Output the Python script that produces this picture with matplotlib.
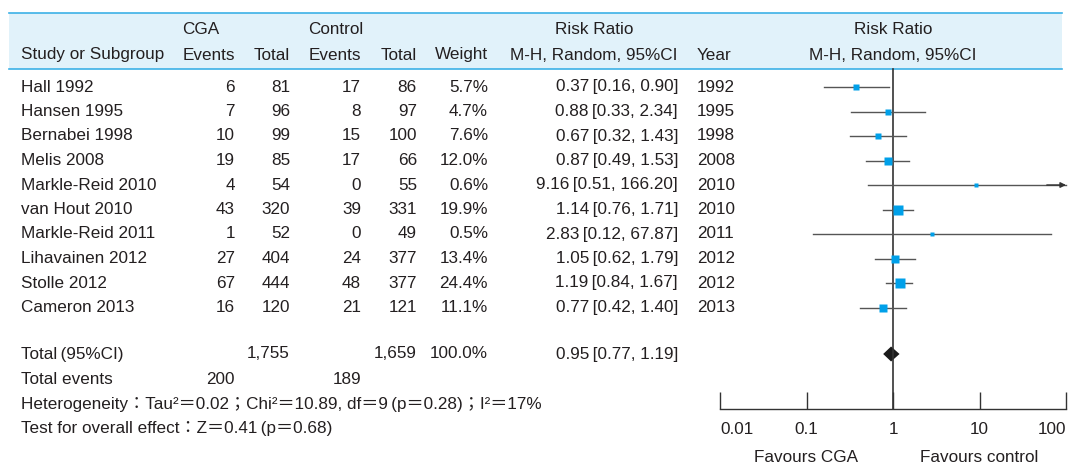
import numpy as np
import matplotlib.pyplot as plt
from matplotlib.patches import Rectangle, Polygon

plt.rcParams['font.family'] = ['Liberation Sans', 'Noto Sans CJK JP', 'DejaVu Sans']

# study data
studies = ["Hall 1992", "Hansen 1995", "Bernabei 1998", "Melis 2008", "Markle-Reid 2010",
           "van Hout 2010", "Markle-Reid 2011", "Lihavainen 2012", "Stolle 2012", "Cameron 2013"]
cga_events = [6, 7, 10, 19, 4, 43, 1, 27, 67, 16]
cga_total = [81, 96, 99, 85, 54, 320, 52, 404, 444, 120]
ctl_events = [17, 8, 15, 17, 0, 39, 0, 24, 48, 21]
ctl_total = [86, 97, 100, 66, 55, 331, 49, 377, 377, 121]
weight = [5.7, 4.7, 7.6, 12.0, 0.6, 19.9, 0.5, 13.4, 24.4, 11.1]
rr = [0.37, 0.88, 0.67, 0.87, 9.16, 1.14, 2.83, 1.05, 1.19, 0.77]
rr_lo = [0.16, 0.33, 0.32, 0.49, 0.51, 0.76, 0.12, 0.62, 0.84, 0.42]
rr_hi = [0.90, 2.34, 1.43, 1.53, 166.20, 1.71, 67.87, 1.79, 1.67, 1.40]
years = [1992, 1995, 1998, 2008, 2010, 2010, 2011, 2012, 2012, 2013]

# pooled result
tot_cga, tot_ctl = 1755, 1659
ev_cga, ev_ctl = 200, 189
pooled = (0.95, 0.77, 1.19)
ticks = [0.01, 0.1, 1, 10, 100]

W, H = 1068, 466
txt = '#231f20'
blue = '#00a0e9'
fs = 12.3
th = '\u2009'

# column anchors (right edges unless noted)
c_ev1, c_to1, c_ev2, c_to2, c_w, c_rr = 235, 290, 361, 417, 488, 678
c_year = 697  # left edge
c_mid = 594   # centre of the risk ratio text column

fig = plt.figure(figsize=(W / 100, H / 100), dpi=100)
ax = fig.add_axes([0, 0, 1, 1])
ax.set_xlim(0, W)
ax.set_ylim(H, 0)
ax.axis('off')


def put(x, y, s, ha='left', **kw):
    return ax.text(x, y, s, fontsize=fs, color=txt, va='center', ha=ha, **kw)


# header band
ax.add_patch(Rectangle((9, 13), 1053, 56, facecolor='#e1f2fa', edgecolor='none'))
ax.plot([9, 1062], [13, 13], color='#3cb1e6', lw=1.2)
ax.plot([9, 1062], [69, 69], color='#3cb1e6', lw=1.2)

h1, h2 = 30, 55
put(21, h2, "Study or Subgroup")
heads = {}
for x, s in [(c_ev1, "Events"), (c_to1, "Total"), (c_ev2, "Events"), (c_to2, "Total"), (c_w, "Weight")]:
    heads[x] = put(x, h2, s, ha='right')
put(c_mid, h2, "M-H, Random, 95%CI", ha='center')
put(c_year, h2, "Year")
put(893, h2, "M-H, Random, 95%CI", ha='center')

# group names start where their "Events" heading starts
fig.canvas.draw()
inv = ax.transData.inverted()
for x, s in [(c_ev1, "CGA"), (c_ev2, "Control")]:
    left = inv.transform(heads[x].get_window_extent().p0)[0]
    put(left, h1, s)
put(c_mid, h1, "Risk Ratio", ha='center')
put(893, h1, "Risk Ratio", ha='center')

row_y = 87 + 24.5 * np.arange(len(studies))
for i, y in enumerate(row_y):
    put(21, y, studies[i])
    put(c_ev1, y, str(cga_events[i]), ha='right')
    put(c_to1, y, str(cga_total[i]), ha='right')
    put(c_ev2, y, str(ctl_events[i]), ha='right')
    put(c_to2, y, str(ctl_total[i]), ha='right')
    put(c_w, y, f"{weight[i]:.1f}%", ha='right')
    put(c_rr, y, f"{rr[i]:.2f}{th}[{rr_lo[i]:.2f}, {rr_hi[i]:.2f}]", ha='right')
    put(c_year, y, str(years[i]))

# totals and summary lines
yt = 354
put(21, yt, f"Total{th}(95%CI)")
put(c_to1, yt, f"{tot_cga:,}", ha='right')
put(c_to2, yt, f"{tot_ctl:,}", ha='right')
put(c_w, yt, "100.0%", ha='right')
put(c_rr, yt, f"{pooled[0]:.2f}{th}[{pooled[1]:.2f}, {pooled[2]:.2f}]", ha='right')
put(21, 379, "Total events")
put(c_ev1, 379, str(ev_cga), ha='right')
put(c_ev2, 379, str(ev_ctl), ha='right')
put(21, 404, f"Heterogeneity：Tau²＝0.02；Chi²＝10.89, df＝9{th}(p＝0.28)；I²＝17%")
put(21, 428, f"Test for overall effect：Z＝0.41{th}(p＝0.68)")

# forest panel on a log scale, sharing the pixel rows
fx0, fx1 = 720, 1066
fa = fig.add_axes([fx0 / W, 0, (fx1 - fx0) / W, 1])
fa.set_xscale('log')
fa.set_xlim(0.01, 100)
fa.set_ylim(H, 0)
fa.patch.set_visible(False)
for s in ['top', 'left', 'right']:
    fa.spines[s].set_visible(False)
y_axis = 409
fa.spines['bottom'].set_position(('data', y_axis))
fa.spines['bottom'].set_color('#333333')
fa.spines['bottom'].set_linewidth(1.0)
fa.set_yticks([])
fa.set_xticks(ticks)
fa.xaxis.set_minor_locator(plt.NullLocator())
fa.tick_params(axis='x', direction='in', length=12, width=1.0, color='#333333', labelbottom=False)

fa.plot([1, 1], [69, y_axis], color='#333333', lw=1.2, clip_on=False)

for i, y in enumerate(row_y):
    hi = min(rr_hi[i], 100)
    fa.plot([rr_lo[i], hi], [y, y], color='#555555', lw=1.0, clip_on=False)
    if rr_hi[i] > 100:
        fa.annotate('', xy=(100, y), xytext=(60, y),
                    arrowprops=dict(arrowstyle='-|>', color='#333333', lw=1.0,
                                    mutation_scale=8, shrinkA=0, shrinkB=0))
    side = 2.5 + 1.5 * np.sqrt(weight[i])
    fa.plot(rr[i], y, marker='s', ms=side * 0.72, color=blue, mec='none', clip_on=False)

# pooled diamond
dy = 7.5
fa.add_patch(Polygon([(pooled[1], yt), (pooled[0], yt - dy), (pooled[2], yt), (pooled[0], yt + dy)],
                     closed=True, facecolor='#1a1a1a', edgecolor='none', clip_on=False))

for t in ticks:
    ha = 'left' if t == ticks[0] else ('right' if t == ticks[-1] else 'center')
    fa.text(t, 430, f"{t:g}", fontsize=fs, color=txt, ha=ha, va='center')
fa.text(0.1, 458, "Favours CGA", fontsize=fs, color=txt, ha='center', va='center')
fa.text(10, 458, "Favours control", fontsize=fs, color=txt, ha='center', va='center')

fig.savefig('out.png', dpi=100)
